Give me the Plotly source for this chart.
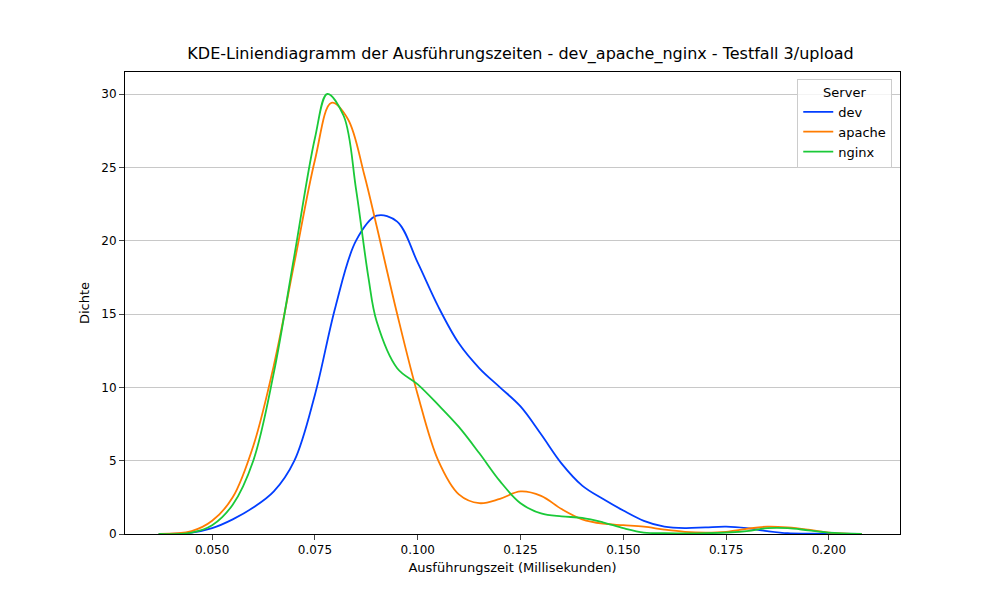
import plotly.graph_objects as go

dev_x = [0.037,0.045,0.050,0.055,0.060,0.065,0.070,0.075,0.080,0.085,0.090,0.095,0.100,0.105,0.110,0.115,0.120,0.125,0.130,0.135,0.140,0.145,0.150,0.155,0.160,0.165,0.170,0.175,0.180,0.185,0.190,0.195,0.208]
dev_y = [0,0.1,0.4,1.0,1.8,2.9,5.0,9.5,15.5,20.0,21.7,21.3,18.5,15.5,13.0,11.3,10.0,8.7,6.8,4.8,3.3,2.4,1.6,0.9,0.5,0.4,0.45,0.5,0.4,0.2,0.05,0.02,0]
apache_x = [0.037,0.045,0.050,0.055,0.060,0.065,0.070,0.075,0.079,0.083,0.087,0.090,0.095,0.100,0.105,0.110,0.115,0.120,0.125,0.130,0.135,0.140,0.145,0.150,0.155,0.160,0.165,0.170,0.175,0.180,0.185,0.190,0.195,0.200,0.208]
apache_y = [0,0.2,0.9,2.5,6,11.5,18.5,25.5,29.4,28.3,24.5,21,15,9.5,5,2.7,2.1,2.4,2.9,2.6,1.7,1.0,0.7,0.6,0.5,0.3,0.15,0.1,0.15,0.35,0.5,0.45,0.3,0.1,0]
nginx_x = [0.037,0.045,0.050,0.055,0.060,0.065,0.070,0.075,0.078,0.082,0.085,0.088,0.090,0.095,0.100,0.105,0.110,0.115,0.120,0.125,0.130,0.135,0.140,0.145,0.150,0.155,0.160,0.170,0.180,0.185,0.190,0.195,0.200,0.208]
nginx_y = [0,0.1,0.6,2,5,11,19,27,30,28.5,23.5,17.5,14.5,11.3,10.2,8.8,7.3,5.5,3.6,2.1,1.4,1.2,1.1,0.8,0.4,0.1,0.05,0.05,0.2,0.4,0.4,0.25,0.1,0]

series = [("dev", dev_x, dev_y, "#023eff"), ("apache", apache_x, apache_y, "#ff7c00"), ("nginx", nginx_x, nginx_y, "#1ac938")]

fig = go.Figure()
for name, xs, ys, c in series:
    fig.add_trace(go.Scatter(x=xs, y=ys, name=name, mode="lines",
                             line=dict(color=c, width=1.8, shape="spline", smoothing=1.0)))

fig.update_layout(
    width=1000, height=600, plot_bgcolor="white", paper_bgcolor="white",
    font=dict(family="DejaVu Sans", size=12, color="black"),
    margin=dict(l=117, r=108, t=64, b=74),
    title=dict(text="KDE-Liniendiagramm der Ausführungszeiten - dev_apache_nginx - Testfall 3/upload",
               x=0.5125, xanchor="center", y=0.915, yanchor="bottom", font=dict(size=16)),
    xaxis=dict(range=[0.0288, 0.2173], tickvals=[0.05,0.075,0.1,0.125,0.15,0.175,0.2], tickformat=".3f",
               showgrid=False, showline=True, linecolor="black", mirror=True, ticks="outside",
               title=dict(text="Ausführungszeit (Millisekunden)", standoff=6, font=dict(size=13)), zeroline=False),
    yaxis=dict(range=[0, 31.5], tickvals=[0,5,10,15,20,25,30], showgrid=True, gridcolor="#c8c8c8",
               showline=True, linecolor="black", mirror=True, ticks="outside",
               title=dict(text="Dichte", standoff=8, font=dict(size=13)), zeroline=False),
    legend=dict(x=0.99, y=0.985, xanchor="right", yanchor="top", bordercolor="#cccccc", borderwidth=1,
                font=dict(size=13),
                title=dict(text="Server", side="top center", font=dict(size=13)), bgcolor="rgba(255,255,255,0.8)"),
)
fig.write_html("out.html")
